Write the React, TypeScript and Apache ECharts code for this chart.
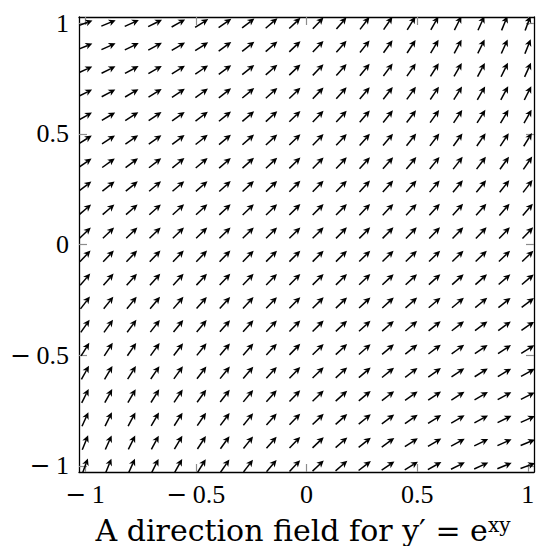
import React, { useEffect, useRef } from "react";
import * as echarts from "echarts";

// Sample grid (20 samples on [-1, 1]) for the direction field of y' = e^{xy}
const xSamples = [
  -1, -0.8947, -0.7895, -0.6842, -0.5789, -0.4737, -0.3684, -0.2632, -0.1579, -0.0526,
  0.0526, 0.1579, 0.2632, 0.3684, 0.4737, 0.5789, 0.6842, 0.7895, 0.8947, 1,
];
const ySamples = [
  -1, -0.8947, -0.7895, -0.6842, -0.5789, -0.4737, -0.3684, -0.2632, -0.1579, -0.0526,
  0.0526, 0.1579, 0.2632, 0.3684, 0.4737, 0.5789, 0.6842, 0.7895, 0.8947, 1,
];
const tickValues = [-1, -0.5, 0, 0.5, 1];
const captionText = "A direction field for {m|y}′ = {m|e}{s|xy}";

// slope of the ODE y' = e^{xy} at each sample point
const slope = (x: number, y: number) => Math.exp(x * y);

const fieldData: number[][] = [];
for (const y of ySamples) {
  for (const x of xSamples) {
    fieldData.push([x, y, slope(x, y)]);
  }
}

const HALF_LEN = 0.035; // half arrow length in data units
const AX_MIN = -1.028;
const AX_MAX = 1.028;

const fmt = (v: number) => {
  const s = String(Math.abs(v));
  return v < 0 ? "{mi|\u2212}\u2009" + s : s;
};

export default function App() {
  const ref = useRef<HTMLDivElement>(null);
  useEffect(() => {
    if (!ref.current) return;
    const chart = echarts.init(ref.current, undefined, { renderer: "svg" });
    const font = "'Liberation Serif', 'DejaVu Serif', serif";
    const capFont = "'DejaVu Serif', 'Liberation Serif', serif";
    const axisCommon = (pos: string, showLabel: boolean) => ({
      type: "value",
      position: pos,
      min: AX_MIN,
      max: AX_MAX,
      splitLine: { show: false },
      axisLine: { show: true, onZero: false, lineStyle: { color: "#000", width: 1.3 } },
      axisTick: {
        show: true,
        inside: true,
        length: 8,
        customValues: tickValues,
        lineStyle: { color: "#8c8c8c", width: 1.2 },
      },
      axisLabel: {
        show: showLabel,
        customValues: tickValues,
        formatter: (v: number) => fmt(v),
        fontFamily: font,
        fontSize: 26,
        color: "#000",
        margin: pos === "bottom" ? 9 : 10,
        rich: {
          mi: { fontFamily: "'DejaVu Serif', serif", fontSize: 25, color: "#000" },
        },
      },
    });
    chart.setOption({
      animation: false,
      backgroundColor: "#fff",
      title: {
        text: captionText,
        left: 298,
        top: 510,
        textAlign: "center",
        textStyle: {
          fontFamily: capFont,
          fontSize: 30,
          fontWeight: "normal",
          color: "#000",
          rich: {
            m: { fontFamily: capFont, fontSize: 30, color: "#000" },
            s: { fontFamily: capFont, fontSize: 20, color: "#000", verticalAlign: "top", lineHeight: 27 },
          },
        },
      },
      grid: { left: 79, right: 4, top: 17, bottom: 74, containLabel: false },
      xAxis: [axisCommon("bottom", true), axisCommon("top", false)],
      yAxis: [axisCommon("left", true), axisCommon("right", false)],
      series: [
        {
          type: "custom",
          clip: true,
          xAxisIndex: 0,
          yAxisIndex: 0,
          data: fieldData,
          renderItem: (params: any, api: any) => {
            const x = api.value(0);
            const y = api.value(1);
            const f = api.value(2);
            const n = Math.sqrt(1 + f * f);
            const p0 = api.coord([x - HALF_LEN / n, y - (HALF_LEN * f) / n]);
            const p1 = api.coord([x + HALF_LEN / n, y + (HALF_LEN * f) / n]);
            const dx = p1[0] - p0[0];
            const dy = p1[1] - p0[1];
            const len = Math.sqrt(dx * dx + dy * dy) || 1;
            const ux = dx / len;
            const uy = dy / len;
            const nx = -uy;
            const ny = ux;
            const hl = 7;
            const hw = 3.4;
            const bx = p1[0] - ux * hl;
            const by = p1[1] - uy * hl;
            const ix = p1[0] - ux * hl * 0.72;
            const iy = p1[1] - uy * hl * 0.72;
            return {
              type: "group",
              children: [
                {
                  type: "line",
                  shape: { x1: p0[0], y1: p0[1], x2: ix, y2: iy },
                  style: { stroke: "#000", lineWidth: 1.5 },
                },
                {
                  type: "polygon",
                  shape: {
                    points: [
                      [p1[0], p1[1]],
                      [bx + nx * hw, by + ny * hw],
                      [ix, iy],
                      [bx - nx * hw, by - ny * hw],
                    ],
                  },
                  style: { fill: "#000" },
                },
              ],
            };
          },
        },
      ],
    });
    return () => chart.dispose();
  }, []);
  return (
    <div
      ref={ref}
      style={{ position: "fixed", left: 0, top: 0, width: 538, height: 546 }}
    />
  );
}
